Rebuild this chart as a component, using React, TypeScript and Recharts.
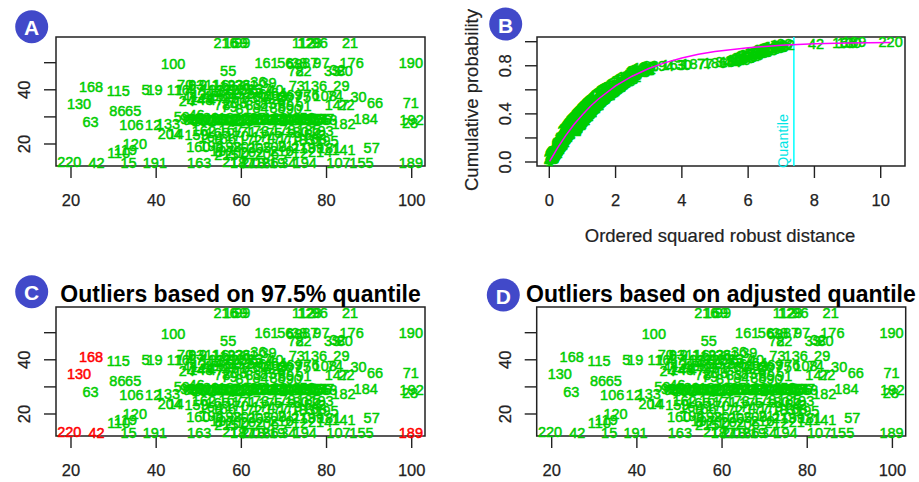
import React from 'react';
import { ScatterChart, Scatter, XAxis, YAxis, ReferenceArea, ReferenceLine } from 'recharts';

// Observation numbers with their two measured variables
const obsIds = [
  216, 99, 169, 112, 128, 96, 21, 100, 161, 56,
  38, 87, 97, 176, 190, 68, 55, 72, 82, 33,
  32, 80, 168, 115, 5, 19, 116, 70, 93, 73,
  136, 29, 108, 74, 30, 203, 207, 130, 24, 143,
  208, 147, 22, 66, 71, 86, 65, 59, 46, 184,
  192, 28, 182, 63, 106, 12, 133, 204, 14, 159,
  54, 2, 120, 110, 119, 160, 8, 181, 141, 199,
  57, 220, 42, 15, 191, 163, 187, 77, 186, 34,
  194, 107, 155, 189, 3,
  1, 4, 6, 7, 9, 10, 11, 13, 16, 17,
  18, 20, 23, 25, 26, 27, 31, 35, 36, 37,
  39, 40, 41, 43, 44, 45, 47, 48, 49, 50,
  51, 52, 53, 58, 60, 61, 62, 64, 67, 69,
  75, 76, 78, 79, 81, 83, 84, 85, 88, 89,
  90, 91, 92, 94, 95, 98, 101, 102, 103, 104,
  105, 109, 111, 113, 114, 117, 118, 121, 122, 123,
  124, 125, 126, 127, 129, 131, 132, 134, 135, 137,
  138, 139, 140, 142, 144, 145, 146, 148, 149, 150,
  151, 152, 153, 154, 156, 157, 158, 162, 164, 165,
  166, 167, 170, 171, 172, 173, 174, 175, 177, 178,
  179, 180, 183, 185, 188, 193, 195, 196, 197, 198,
  200, 201, 202, 205, 206, 209, 210, 211, 212, 213,
  214, 215, 217, 218, 219,
];

const obsX = [
  56.3, 60.2, 58.6, 74.6, 76.0, 78.4, 85.5, 44.0, 65.9, 70.3,
  73.6, 76.2, 78.8, 85.9, 99.8, 72.4, 56.9, 72.8, 74.6, 81.3,
  82.6, 84.3, 24.7, 31.1, 37.5, 39.6, 45.2, 46.8, 49.4, 73.0,
  77.3, 83.5, 79.6, 82.0, 87.5, 68.0, 71.3, 21.9, 47.2, 50.6,
  58.5, 82.4, 84.7, 91.4, 99.8, 30.9, 34.6, 46.0, 49.5, 89.2,
  100.0, 99.6, 84.0, 24.6, 34.2, 39.3, 42.8, 43.2, 44.6, 49.5,
  76.6, 79.0, 35.0, 31.2, 32.8, 49.9, 54.7, 80.6, 84.0, 76.6,
  90.6, 19.6, 26.0, 33.5, 39.7, 50.1, 60.2, 61.6, 65.9, 71.0,
  74.9, 82.8, 88.2, 99.8, 69.6,
  // upper row of the central group
  45.5, 47.8, 48.5, 50.2, 51.0, 52.3, 53.1, 54.0, 55.2, 56.0, 56.8,
  57.7, 58.6, 59.4, 60.3, 61.2, 62.0, 63.0, 64.0, 65.2, 66.4, 68.0,
  48.0, 49.8, 51.5, 52.8, 54.0, 55.5, 57.0, 58.2, 59.5, 60.8,
  62.0, 63.2, 64.5, 65.8, 67.0, 68.8, 70.2, 72.5, 74.5, 76.5,
  55.5, 57.2, 60.5, 62.8, 64.5, 66.3, 68.5, 70.5, 72.3, 74.6,
  // main band of the central group
  47.5, 48.2, 49.0, 49.7, 50.4, 51.2, 51.9, 52.6, 53.4, 54.1,
  54.8, 55.6, 56.3, 57.0, 57.8, 58.5, 59.2, 60.0, 60.7, 61.4,
  62.2, 62.9, 63.6, 64.4, 65.1, 65.8, 66.6, 67.3, 68.0, 68.8,
  69.5, 70.2, 71.0, 71.7, 72.4, 73.2, 73.9, 74.6, 75.4, 76.1,
  76.8, 77.6, 78.3, 79.0, 79.7,
  // lower rows of the central group
  51.2, 52.8, 54.4, 55.9, 57.5, 59.0, 60.6, 62.1, 63.7, 65.2,
  66.8, 68.3, 69.9, 71.4, 73.0, 74.5, 75.8, 77.2, 78.8, 80.0,
  53.0, 55.5, 57.2, 59.0, 60.8, 62.5, 64.2, 66.0, 67.8, 69.5,
  71.2, 72.8, 74.5, 78.5, 56.5,
  58.3, 62.8, 67.5,
];

const obsY = [
  57.4, 57.4, 57.2, 57.4, 57.4, 57.4, 57.4, 49.7, 49.9, 49.9,
  49.9, 49.9, 49.9, 49.9, 49.9, 49.6, 46.8, 46.8, 46.8, 46.8,
  47.3, 46.8, 41.2, 39.7, 39.9, 39.9, 39.9, 41.7, 41.7, 41.5,
  41.5, 41.5, 37.8, 37.8, 37.5, 37.6, 37.4, 34.7, 36.0, 36.2,
  35.1, 34.4, 34.4, 35.1, 35.1, 32.2, 32.2, 30.1, 30.7, 29.1,
  28.9, 27.6, 27.4, 28.3, 27.0, 27.0, 27.4, 23.7, 23.7, 23.3,
  23.3, 23.3, 20.0, 16.8, 17.8, 19.0, 17.1, 18.4, 17.6, 18.4,
  18.4, 13.2, 13.0, 13.0, 13.0, 13.0, 13.0, 13.0, 13.0, 13.0,
  13.0, 13.0, 13.0, 13.0, 37.5,
  // upper row of the central group
  40.0, 39.9, 41.5, 40.1, 41.8, 39.8, 41.6, 40.0, 41.7, 39.9, 41.5,
  40.1, 41.8, 39.8, 41.6, 40.0, 41.7, 39.9, 42.8, 40.2, 42.6, 40.0,
  37.2, 38.0, 36.6, 37.8, 36.3, 38.5, 37.0, 38.6, 36.8, 38.4,
  37.0, 38.7, 37.3, 38.6, 36.6, 38.8, 36.2, 38.0, 37.2, 38.2,
  34.5, 33.5, 33.0, 34.4, 33.2, 34.6, 33.4, 34.0, 32.8, 34.2,
  // main band of the central group
  29.1, 28.7, 29.4, 28.9, 29.2, 28.6, 29.5, 29.0, 28.8, 29.3,
  29.0, 29.6, 28.7, 29.2, 28.9, 29.4, 29.0, 28.6, 29.3, 29.1,
  28.8, 29.5, 29.0, 29.2, 28.7, 29.4, 28.9, 29.1, 29.6, 28.8,
  29.2, 29.0, 29.4, 28.7, 29.1, 29.3, 28.9, 29.5, 29.0, 28.8,
  29.2, 29.4, 28.9, 29.1, 28.7,
  // lower rows of the central group
  24.8, 22.5, 24.2, 21.8, 25.0, 22.8, 24.4, 21.5, 24.9, 22.6,
  24.1, 21.9, 25.1, 22.7, 24.3, 21.6, 25.2, 22.0, 24.8, 21.2,
  19.2, 17.5, 18.8, 16.6, 19.0, 17.2, 18.6, 16.4, 18.9, 17.3,
  19.3, 16.8, 18.5, 17.0, 16.0,
  13.2, 13.0, 13.1,
];

// Observations flagged as outliers by each rule
const outliersQuantile = [168, 130, 220, 42, 189];
const outliersAdjusted: number[] = [];

// Observation at each rank of the ordered squared robust distances
const rankedIds = [
  1, 4, 6, 7, 9, 10, 11, 13, 16, 17,
  18, 20, 23, 25, 26, 27, 31, 35, 36, 37,
  39, 40, 41, 43, 44, 45, 47, 48, 49, 50,
  51, 52, 53, 58, 60, 61, 62, 64, 67, 69,
  75, 76, 78, 79, 81, 83, 84, 85, 88, 89,
  90, 91, 92, 94, 95, 98, 101, 102, 103, 104,
  105, 109, 111, 113, 114, 117, 118, 121, 122, 123,
  124, 125, 126, 127, 129, 131, 132, 134, 135, 137,
  138, 139, 140, 142, 144, 145, 146, 148, 149, 150,
  151, 152, 153, 154, 156, 157, 158, 162, 164, 165,
  166, 167, 170, 171, 172, 173, 174, 175, 177, 178,
  179, 180, 183, 185, 188, 193, 195, 196, 197, 198,
  200, 201, 202, 205, 206, 209, 210, 211, 212, 213,
  214, 215, 217, 218, 219,
  24, 143, 208, 59, 46, 159, 160, 8, 199, 54,
  2, 3, 203, 207, 73, 136, 108, 74, 55, 161,
  56, 38, 87, 68, 72, 82, 93, 70, 116, 133,
  204, 14, 181, 141, 182, 147, 22, 29, 97, 33,
  194, 163, 30, 187, 77, 186, 34, 107,
  32, 80, 12, 106, 19, 5, 120, 119, 110, 191,
  15, 184, 176, 57, 66, 155, 65, 86, 100, 21,
  112, 128, 96, 169, 99, 216, 115, 190, 71, 28,
  192, 63,
  42, 168, 130, 189, 220,
];

// Ordered squared robust distances
const rankedDist = [
  0.01, 0.02, 0.03, 0.03, 0.05, 0.06, 0.06, 0.07, 0.08, 0.09,
  0.10, 0.11, 0.12, 0.13, 0.14, 0.14, 0.16, 0.17, 0.18, 0.19,
  0.20, 0.21, 0.22, 0.23, 0.24, 0.25, 0.27, 0.28, 0.29, 0.30,
  0.31, 0.32, 0.33, 0.34, 0.35, 0.36, 0.37, 0.38, 0.39, 0.40,
  0.41, 0.42, 0.44, 0.45, 0.46, 0.47, 0.48, 0.50, 0.51, 0.52,
  0.53, 0.54, 0.55, 0.56, 0.57, 0.59, 0.60, 0.61, 0.62, 0.64,
  0.65, 0.66, 0.68, 0.69, 0.70, 0.71, 0.73, 0.74, 0.76, 0.77,
  0.78, 0.80, 0.81, 0.82, 0.84, 0.85, 0.87, 0.88, 0.89, 0.91,
  0.92, 0.94, 0.95, 0.97, 0.98, 1.00, 1.01, 1.03, 1.04, 1.05,
  1.07, 1.08, 1.10, 1.11, 1.13, 1.14, 1.16, 1.18, 1.19, 1.21,
  1.22, 1.24, 1.26, 1.27, 1.29, 1.31, 1.33, 1.34, 1.36, 1.38,
  1.40, 1.41, 1.43, 1.45, 1.47, 1.49, 1.51, 1.53, 1.55, 1.57,
  1.59, 1.61, 1.63, 1.65, 1.67, 1.69, 1.72, 1.74, 1.76, 1.78,
  1.80, 1.83, 1.85, 1.87, 1.90, 1.92, 1.95, 1.97, 2.00, 2.02,
  2.05, 2.07, 2.10, 2.13, 2.15, 2.18, 2.21, 2.23, 2.26, 2.28,
  2.31, 2.33, 2.36, 2.38, 2.41, 2.43, 2.45, 2.47, 2.49, 2.52,
  2.55, 2.58, 2.61, 2.64, 2.67, 2.70, 2.73, 2.77, 2.81, 2.85,
  2.89, 2.93, 2.97, 3.01, 3.06,
  3.40, 3.75, 4.05, 4.35, 4.70, 5.00, 5.25, 5.50,
  5.55, 5.60, 5.66, 5.71, 5.76, 5.80, 5.85, 5.89, 5.94, 5.98,
  6.03, 6.07, 6.11, 6.16, 6.20, 6.25, 6.30, 6.34, 6.38, 6.43,
  6.48, 6.53, 6.58, 6.63, 6.68, 6.74, 6.80, 6.86, 6.92, 6.98,
  7.04, 7.10,
  8.05, 8.90, 9.05, 9.20, 10.30,
];

// Chi-square distribution function with 2 degrees of freedom
const chiDist = [0.01, 0.25, 0.5, 0.75, 1, 1.25, 1.5, 2, 2.5, 3, 3.5, 4, 4.5, 5, 6, 7, 8, 9, 10.3];
const chiProb = [0.005, 0.118, 0.221, 0.313, 0.393, 0.465, 0.528, 0.632, 0.713, 0.777, 0.826, 0.865, 0.895, 0.918, 0.95, 0.97, 0.982, 0.989, 0.994];
const quantile975 = 7.38;

const scatterXTicks = [20, 40, 60, 80, 100];
const scatterYTicks = [20, 30, 40, 50];
const scatterYLabels = [20, 40];
const distXTicks = [0, 2, 4, 6, 8, 10];
const probYTicks = [0, 0.2, 0.4, 0.6, 0.8, 1];
const probYLabels = [0, 0.4, 0.8];

const FONT = "'Liberation Sans', Arial, Helvetica, sans-serif";
const GREEN = '#00CD00';
const RED = '#FF0000';
const AXIS_COLOR = '#222';
const BADGE = '#4149C9';

const scatterXDomain: [number, number] = [16.48, 103.12];
const scatterYDomain: [number, number] = [11.88, 59.48];
const distXDomain: [number, number] = [-0.371, 10.733];
const probYDomain: [number, number] = [-0.0333, 1.0391];

const observations = obsIds.map((id, i) => ({ id, x: obsX[i], y: obsY[i] }));
const rankedPoints = rankedIds.map((id, i) => ({ id, x: rankedDist[i], y: (i + 1) / rankedIds.length }));
const chiCurve = chiDist.map((d, i) => ({ x: d, y: chiProb[i] }));

const XTick = (props: any) => {
  const { x, y, payload } = props;
  return (
    <text x={x} y={y + 20} textAnchor="middle" dominantBaseline="central" fontSize={16.5} fontFamily={FONT} fill={AXIS_COLOR} stroke={AXIS_COLOR} strokeWidth={0.25}>
      {payload.value}
    </text>
  );
};

const makeYTick = (shown: number[], digits: number) => (props: any) => {
  const { x, y, payload } = props;
  if (!shown.includes(payload.value)) return <g />;
  const cx = x - 18;
  return (
    <text
      x={cx}
      y={y}
      transform={`rotate(-90 ${cx} ${y})`}
      textAnchor="middle"
      dominantBaseline="central"
      fontSize={16.5}
      fontFamily={FONT}
      fill={AXIS_COLOR}
      stroke={AXIS_COLOR}
      strokeWidth={0.25}
    >
      {Number(payload.value).toFixed(digits)}
    </text>
  );
};

const ScatterYTick = makeYTick(scatterYLabels, 0);
const ProbYTick = makeYTick(probYLabels, 1);

const makeIdLabel = (flagged: number[]) => (props: any) => {
  const { cx, cy, payload } = props;
  const color = flagged.includes(payload.id) ? RED : GREEN;
  return (
    <text
      x={cx}
      y={cy}
      textAnchor="middle"
      dominantBaseline="central"
      fontSize={14.5}
      fontFamily={FONT}
      fill={color}
      stroke={color}
      strokeWidth={0.5}
    >
      {payload.id}
    </text>
  );
};

const noMarker = () => <g />;

const tickLineStyle = { stroke: AXIS_COLOR, strokeWidth: 1.4 };

type PanelProps = { left: number; top: number; width: number; yAxisWidth: number; flagged: number[] };

function ObservationPanel({ left, top, width, yAxisWidth, flagged }: PanelProps) {
  const right = width - yAxisWidth - 369;
  return (
    <div style={{ position: 'absolute', left, top }}>
      <ScatterChart width={width} height={240} margin={{ top: 37, right, bottom: 0, left: 0 }}>
        <XAxis
          type="number"
          dataKey="x"
          domain={scatterXDomain}
          ticks={scatterXTicks}
          height={74}
          axisLine={false}
          tickSize={12}
          tickLine={tickLineStyle}
          tick={<XTick />}
        />
        <YAxis
          type="number"
          dataKey="y"
          domain={scatterYDomain}
          ticks={scatterYTicks}
          width={yAxisWidth}
          axisLine={false}
          tickSize={12}
          tickLine={tickLineStyle}
          tick={<ScatterYTick />}
        />
        <ReferenceArea
          x1={scatterXDomain[0]}
          x2={scatterXDomain[1]}
          y1={scatterYDomain[0]}
          y2={scatterYDomain[1]}
          fill="none"
          stroke={AXIS_COLOR}
          strokeWidth={1.5}
          ifOverflow="visible"
        />
        <Scatter data={observations} shape={makeIdLabel(flagged)} isAnimationActive={false} />
      </ScatterChart>
    </div>
  );
}

const QuantileLabel = (props: any) => {
  const vb = props.viewBox || {};
  const tx = vb.x - 11;
  const ty = vb.y + vb.height + 2;
  return (
    <text
      x={tx}
      y={ty}
      transform={`rotate(-90 ${tx} ${ty})`}
      textAnchor="start"
      dominantBaseline="central"
      fontSize={14.5}
      fontFamily={FONT}
      fill="#00E5E5"
    >
      Quantile
    </text>
  );
};

function DistancePanel() {
  return (
    <div style={{ position: 'absolute', left: 450, top: 0 }}>
      <ScatterChart width={470} height={240} margin={{ top: 37, right: 15, bottom: 0, left: 0 }}>
        <XAxis
          type="number"
          dataKey="x"
          domain={distXDomain}
          ticks={distXTicks}
          height={74}
          axisLine={false}
          tickSize={12}
          tickLine={tickLineStyle}
          tick={<XTick />}
        />
        <YAxis
          type="number"
          dataKey="y"
          domain={probYDomain}
          ticks={probYTicks}
          width={87}
          axisLine={false}
          tickSize={12}
          tickLine={tickLineStyle}
          tick={<ProbYTick />}
        />
        <ReferenceArea
          x1={distXDomain[0]}
          x2={distXDomain[1]}
          y1={probYDomain[0]}
          y2={probYDomain[1]}
          fill="none"
          stroke={AXIS_COLOR}
          strokeWidth={1.5}
          ifOverflow="visible"
        />
        <ReferenceLine x={quantile975} stroke="#00FFFF" strokeWidth={1.5} label={QuantileLabel} />
        <Scatter data={rankedPoints} shape={makeIdLabel([])} isAnimationActive={false} />
        <Scatter
          data={chiCurve}
          shape={noMarker}
          line={{ stroke: '#FF00FF', strokeWidth: 1.5 }}
          isAnimationActive={false}
        />
      </ScatterChart>
    </div>
  );
}

function Badge({ cx, cy, letter }: { cx: number; cy: number; letter: string }) {
  return (
    <g>
      <circle cx={cx} cy={cy} r={16.5} fill={BADGE} />
      <text x={cx} y={cy + 1} textAnchor="middle" dominantBaseline="central" fontSize={21} fontWeight="bold" fontFamily={FONT} fill="#fff">
        {letter}
      </text>
    </g>
  );
}

export default function App() {
  return (
    <div style={{ position: 'absolute', left: 0, top: 0, width: 919, height: 482, overflow: 'hidden', background: '#fff' }}>
      <ObservationPanel left={0} top={0} width={460} yAxisWidth={56} flagged={[]} />
      <DistancePanel />
      <ObservationPanel left={0} top={269.7} width={460} yAxisWidth={56} flagged={outliersQuantile} />
      <ObservationPanel left={450} top={269.7} width={470} yAxisWidth={86.7} flagged={outliersAdjusted} />
      <svg width={919} height={482} style={{ position: 'absolute', left: 0, top: 0, pointerEvents: 'none' }}>
        <Badge cx={31.7} cy={26.7} letter="A" />
        <Badge cx={505.7} cy={24} letter="B" />
        <Badge cx={31.7} cy={291.7} letter="C" />
        <Badge cx={503.3} cy={295} letter="D" />
        <text x={240.5} y={301.5} textAnchor="middle" fontSize={23} fontWeight="bold" fontFamily={FONT} fill="#000">
          Outliers based on 97.5% quantile
        </text>
        <text x={720.9} y={301.5} textAnchor="middle" fontSize={23} fontWeight="bold" fontFamily={FONT} fill="#000">
          Outliers based on adjusted quantile
        </text>
        <text x={720} y={235} textAnchor="middle" dominantBaseline="central" fontSize={18.5} fontFamily={FONT} fill={AXIS_COLOR} stroke={AXIS_COLOR} strokeWidth={0.2}>
          Ordered squared robust distance
        </text>
        <text
          x={471.7}
          y={100}
          transform="rotate(-90 471.7 100)"
          textAnchor="middle"
          dominantBaseline="central"
          fontSize={18.5}
          fontFamily={FONT}
          fill={AXIS_COLOR}
          stroke={AXIS_COLOR}
          strokeWidth={0.2}
        >
          Cumulative probability
        </text>
      </svg>
    </div>
  );
}
